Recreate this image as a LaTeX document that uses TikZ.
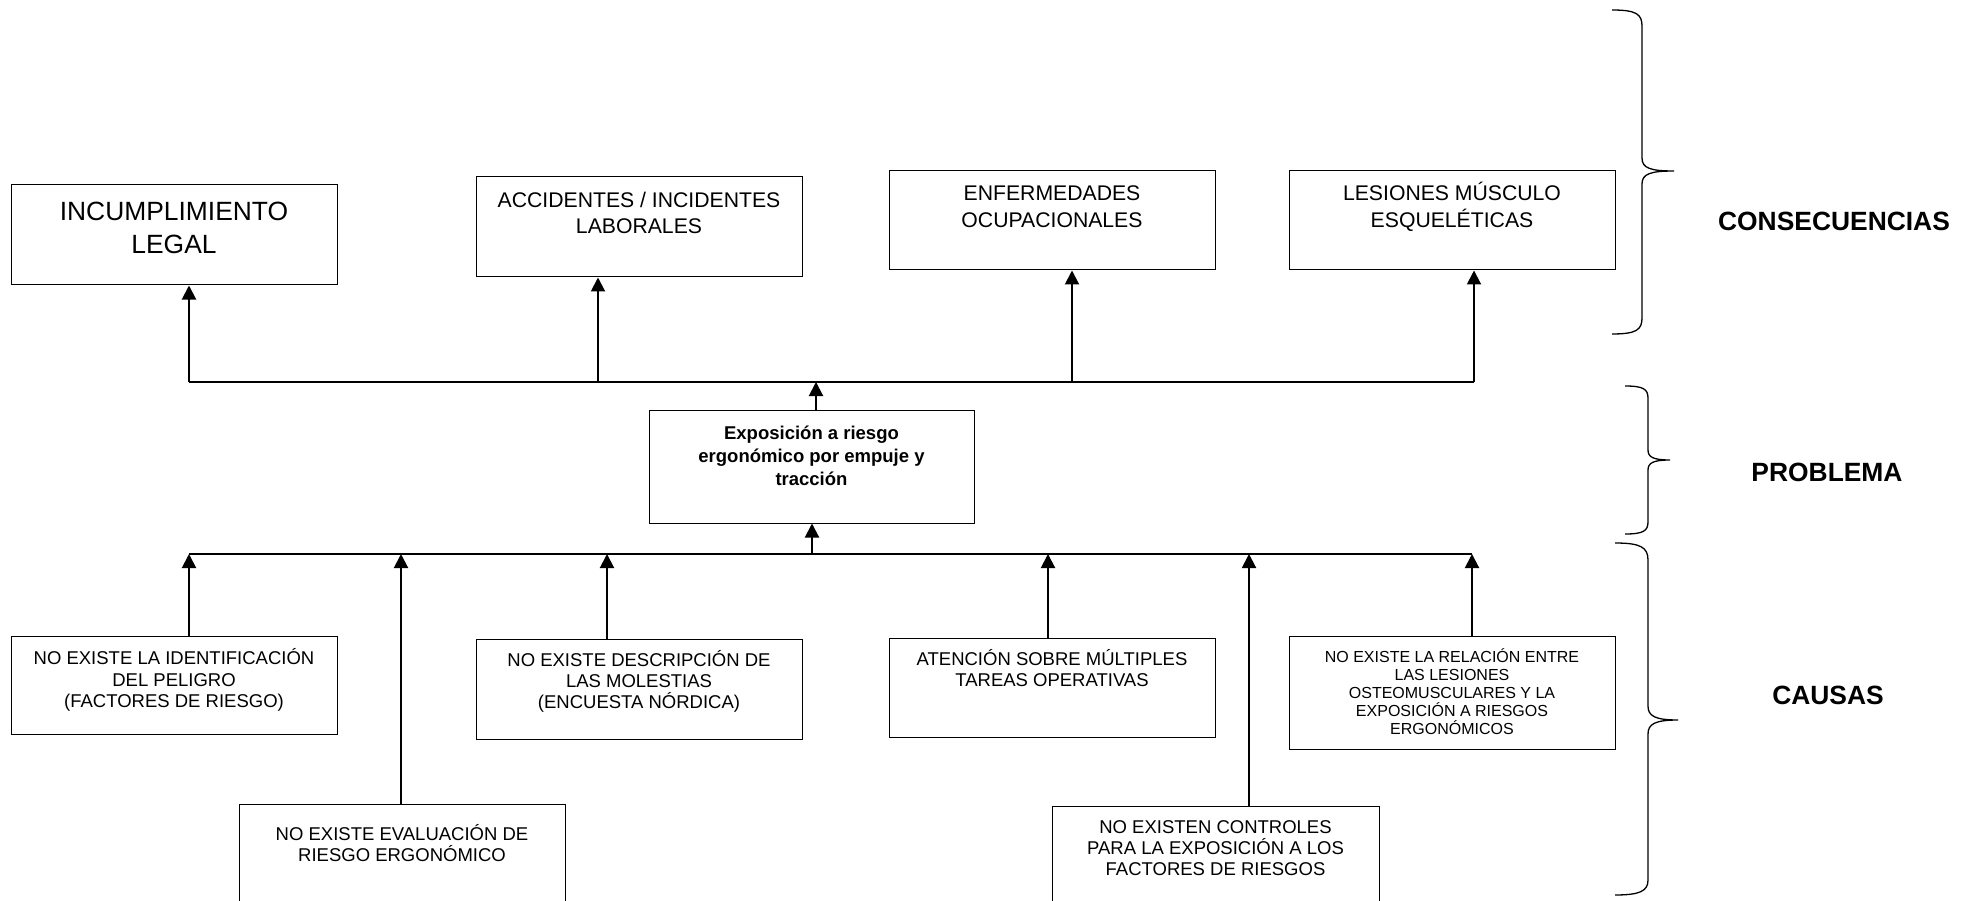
\documentclass[tikz,border=0pt]{standalone}
\usepackage{fontspec}
\setmainfont{Liberation Sans}
\usetikzlibrary{arrows.meta,calc}
\begin{document}
\begin{tikzpicture}[x=1pt,y=-1pt,
  box/.style={draw, line width=1pt, minimum width=326pt, inner sep=0pt},
  arr/.style={line width=2pt, -{Triangle[length=14pt,width=14pt]}},
  bus/.style={line width=1.8pt},
  brace/.style={line width=1.3pt},
  txtA/.style={align=center, inner sep=0pt, font=\fontsize{26.4}{33}\selectfont},
  txtB/.style={align=center, inner sep=0pt, font=\fontsize{21.2}{26.7}\selectfont},
  txtC/.style={align=center, inner sep=0pt, font=\fontsize{18.5}{21.3}\selectfont},
  txtD/.style={align=center, inner sep=0pt, font=\fontsize{16}{18}\selectfont},
  txtP/.style={align=center, inner sep=0pt, font=\bfseries\fontsize{18.5}{23}\selectfont},
  side/.style={inner sep=0pt, font=\bfseries\fontsize{26.4}{30}\selectfont},
]
\useasboundingbox (0,0) rectangle (1975,901);
\clip (0,0) rectangle (1975,901);

% consequences
\node[box, minimum height=100pt] (c1) at (174,235) {};
\node[box, minimum height=100pt] (c2) at (639,227) {};
\node[box, minimum height=99pt] (c3) at (1052,220.5) {};
\node[box, minimum height=99pt] (c4) at (1452,220.5) {};
\node[txtA] (tc1) at ($(c1.north)+(0,43.5)$) {INCUMPLIMIENTO\\LEGAL};
\node[txtB] (tc2) at ($(c2.north)+(0,36.5)$) {ACCIDENTES / INCIDENTES\\LABORALES};
\node[txtB] (tc3) at ($(c3.north)+(0,36)$) {ENFERMEDADES\\OCUPACIONALES};
\node[txtB] (tc4) at ($(c4.north)+(0,36)$) {LESIONES MÚSCULO\\ESQUELÉTICAS};

% problem
\node[box, minimum width=325pt, minimum height=113pt] (p) at (811.5,466.5) {};
\node[txtP] (tp) at ($(p.north)+(0,46)$) {Exposición a riesgo\\ergonómico por empuje y\\tracción};

% causes
\node[box, minimum height=98pt] (k1) at (174,685) {};
\node[box, minimum height=120pt] (k2) at (402,864) {};
\node[box, minimum height=100pt] (k3) at (639,689) {};
\node[box, minimum height=99pt] (k4) at (1052,687.5) {};
\node[box, minimum width=327pt, minimum height=120pt] (k5) at (1215.5,866) {};
\node[box, minimum height=113pt] (k6) at (1452,692.5) {};
\node[txtC] (tk1) at ($(k1.north)+(0,44.5)$) {NO EXISTE LA IDENTIFICACIÓN\\DEL PELIGRO\\(FACTORES DE RIESGO)};
\node[txtC] (tk2) at ($(k2.north)+(0,39.5)$) {NO EXISTE EVALUACIÓN DE\\RIESGO ERGONÓMICO};
\node[txtC] (tk3) at ($(k3.north)+(0,43)$) {NO EXISTE DESCRIPCIÓN DE\\LAS MOLESTIAS\\(ENCUESTA NÓRDICA)};
\node[txtC] (tk4) at ($(k4.north)+(0,30.5)$) {ATENCIÓN SOBRE MÚLTIPLES\\TAREAS OPERATIVAS};
\node[txtC] (tk5) at ($(k5.north)+(0,42.5)$) {NO EXISTEN CONTROLES\\PARA LA EXPOSICIÓN A LOS\\FACTORES DE RIESGOS};
\node[txtD] (tk6) at ($(k6.north)+(0,56)$) {NO EXISTE LA RELACIÓN ENTRE\\LAS LESIONES\\OSTEOMUSCULARES Y LA\\EXPOSICIÓN A RIESGOS\\ERGONÓMICOS};

% bus points
\coordinate (u1) at (189,382);
\coordinate (u2) at (598,382);
\coordinate (u3) at (1072,382);
\coordinate (u4) at (1474,382);
\coordinate (up) at (816,382);
\coordinate (l1) at (189,554);
\coordinate (l2) at (401,554);
\coordinate (l3) at (607,554);
\coordinate (lp) at (812,554);
\coordinate (l4) at (1048,554);
\coordinate (l5) at (1249,554);
\coordinate (l6) at (1472,554);

\draw[bus] (u1) -- (u4);
\draw[bus] (l1) -- (l6);

\draw[arr] (u1) -- (u1 |- c1.south);
\draw[arr] (u2) -- (u2 |- c2.south);
\draw[arr] (u3) -- (u3 |- c3.south);
\draw[arr] (u4) -- (u4 |- c4.south);
\draw[arr] (up |- p.north) -- (up);
\draw[arr] (lp) -- (lp |- p.south);
\draw[arr] (l1 |- k1.north) -- (l1);
\draw[arr] (l2 |- k2.north) -- (l2);
\draw[arr] (l3 |- k3.north) -- (l3);
\draw[arr] (l4 |- k4.north) -- (l4);
\draw[arr] (l5 |- k5.north) -- (l5);
\draw[arr] (l6 |- k6.north) -- (l6);

% braces
\draw[brace] (1612,10) .. controls (1636,10) and (1642,14) .. (1642,26) -- (1642,158)
  .. controls (1642,168) and (1650,171) .. (1674,171)
  .. controls (1650,171) and (1642,174) .. (1642,184) -- (1642,318)
  .. controls (1642,330) and (1636,334) .. (1612,334);
\draw[brace] (1625,386) .. controls (1643,386) and (1648,389) .. (1648,398) -- (1648,450)
  .. controls (1648,457) and (1653,460) .. (1670,460)
  .. controls (1653,460) and (1648,463) .. (1648,470) -- (1648,522)
  .. controls (1648,531) and (1643,534) .. (1625,534);
\draw[brace] (1615,543) .. controls (1640,543) and (1648,547) .. (1648,560) -- (1648,706)
  .. controls (1648,716) and (1655,720) .. (1678,720)
  .. controls (1655,720) and (1648,724) .. (1648,734) -- (1648,880)
  .. controls (1648,891) and (1640,895) .. (1615,895);

\node[side] (s1) at (1834,221) {CONSECUENCIAS};
\node[side] (s2) at (1827,472) {PROBLEMA};
\node[side] (s3) at (1828,695) {CAUSAS};
\end{tikzpicture}
\end{document}
